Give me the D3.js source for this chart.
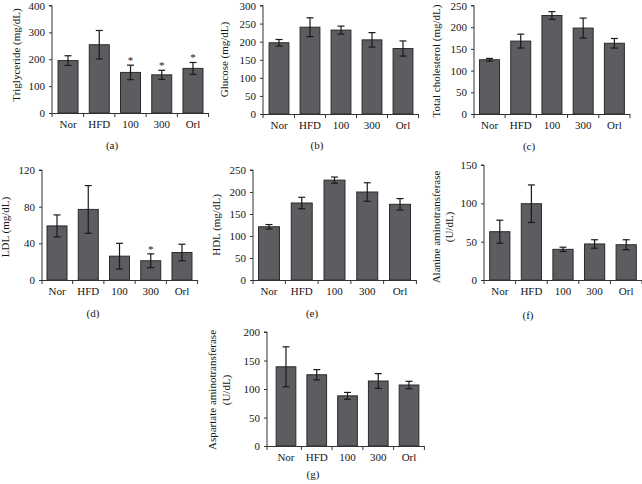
<!DOCTYPE html>
<html><head><meta charset="utf-8">
<script src="https://cdn.jsdelivr.net/npm/d3@7"></script>
<style>
html,body{margin:0;padding:0;background:#fff;}
svg{display:block;}
text{font-family:"Liberation Serif","DejaVu Serif",serif;fill:#151515;}
</style></head>
<body>
<svg id="c" width="642" height="484"></svg>
<script>
const categories = ["Nor","HFD","100","300","Orl"];

const trigMean = [195, 254, 151, 142, 166];
const trigErr  = [18, 53, 27, 17, 22];
const trigStar = [false, false, true, true, true];
const trigTicks = [0,100,200,300,400];

const gluMean = [197, 240, 232, 205, 181];
const gluErr  = [9, 26, 11, 20, 21];
const gluStar = [false,false,false,false,false];
const gluTicks = [0,50,100,150,200,250,300];

const tcMean = [125, 168, 227, 198, 163];
const tcErr  = [3, 16, 9, 23, 11];
const tcStar = [false,false,false,false,false];
const tcTicks = [0,50,100,150,200,250];

const ldlMean = [59, 77, 26, 21, 30];
const ldlErr  = [12, 26, 14, 7.5, 9];
const ldlStar = [false,false,false,true,false];
const ldlTicks = [0,40,80,120];

const hdlMean = [121, 175, 227, 200, 172];
const hdlErr  = [5, 13, 7, 21, 13];
const hdlStar = [false,false,false,false,false];
const hdlTicks = [0,50,100,150,200,250];

const altMean = [63, 99.5, 40, 47, 46];
const altErr  = [15, 24.5, 2.8, 5.5, 6.5];
const altStar = [false,false,false,false,false];
const altTicks = [0,50,100,150];

const astMean = [139, 125, 88, 114, 107];
const astErr  = [35, 9, 6, 13, 6.5];
const astStar = [false,false,false,false,false];
const astTicks = [0,50,100,150,200];

const panels = [
  {mean:trigMean, err:trigErr, star:trigStar, ticks:trigTicks, label:["Triglyceride (mg/dL)"], cap:"(a)",
   ax:52, x0:52.4, x1:208.6, top:5.5, bot:113, lx:[20], ly:55, capx:112, capy:149},
  {mean:gluMean, err:gluErr, star:gluStar, ticks:gluTicks, label:["Glucose (mg/dL)"], cap:"(b)",
   ax:263, x0:263.5, x1:418.5, top:5.5, bot:114, lx:[228], ly:59.5, capx:317, capy:149},
  {mean:tcMean, err:tcErr, star:tcStar, ticks:tcTicks, label:["Total cholesterol (mg/dL)"], cap:"(c)",
   ax:474, x0:473.9, x1:630, top:5.5, bot:114, lx:[440], ly:61, capx:529, capy:150},
  {mean:ldlMean, err:ldlErr, star:ldlStar, ticks:ldlTicks, label:["LDL (mg/dL)"], cap:"(d)",
   ax:42, x0:41.4, x1:197.6, top:170, bot:280, lx:[9], ly:227, capx:93, capy:317},
  {mean:hdlMean, err:hdlErr, star:hdlStar, ticks:hdlTicks, label:["HDL (mg/dL)"], cap:"(e)",
   ax:253, x0:252.6, x1:416.4, top:170, bot:280, lx:[220], ly:225, capx:312, capy:317},
  {mean:altMean, err:altErr, star:altStar, ticks:altTicks, label:["Alanine aminotransferase","(U/dL)"], cap:"(f)",
   ax:484, x0:484, x1:642, top:165, bot:280, lx:[440,453], ly:227, capx:528, capy:319},
  {mean:astMean, err:astErr, star:astStar, ticks:astTicks, label:["Aspartate aminotransferase","(U/dL)"], cap:"(g)",
   ax:267, x0:270.6, x1:424.4, top:332, bot:446, lx:[216,230], ly:390, capx:313, capy:478}
];

const svg = d3.select("#c");
const axisCol = "#333";

panels.forEach(p => {
  const g = svg.append("g");
  const ymax = p.ticks[p.ticks.length-1];
  const y = d3.scaleLinear().domain([0, ymax]).range([p.bot, p.top]);
  const x = d3.scaleBand().domain(categories).range([p.x0, p.x1]).paddingInner(0.36).paddingOuter(0.18);

  // bars
  g.selectAll("rect.bar").data(categories).enter().append("rect")
    .attr("x", d => x(d)).attr("width", x.bandwidth())
    .attr("y", (d,i) => y(p.mean[i])).attr("height", (d,i) => p.bot - y(p.mean[i]))
    .attr("fill", "#5c5c61").attr("stroke", "#2b2b2b").attr("stroke-width", 1);

  // error bars
  categories.forEach((c,i) => {
    const cx = x(c) + x.bandwidth()/2;
    const hi = y(p.mean[i] + p.err[i]), lo = y(p.mean[i] - p.err[i]);
    g.append("line").attr("x1",cx).attr("x2",cx).attr("y1",hi).attr("y2",lo).attr("stroke","#1a1a1a").attr("stroke-width",1.2);
    g.append("line").attr("x1",cx-3.5).attr("x2",cx+3.5).attr("y1",hi).attr("y2",hi).attr("stroke","#1a1a1a").attr("stroke-width",1.2);
    g.append("line").attr("x1",cx-3.5).attr("x2",cx+3.5).attr("y1",lo).attr("y2",lo).attr("stroke","#1a1a1a").attr("stroke-width",1.2);
    if (p.star[i]) {
      g.append("text").attr("x",cx).attr("y",hi-1).attr("text-anchor","middle")
        .attr("font-size","11px").text("*");
    }
  });

  // y axis
  const yAxis = d3.axisLeft(y).tickValues(p.ticks).tickSize(3).tickPadding(4).tickFormat(d3.format("d"));
  const ya = g.append("g").attr("transform", `translate(${p.ax},0)`).call(yAxis);
  ya.select(".domain").attr("stroke", axisCol).attr("d", `M-3,${p.top}H0V${p.bot}`);
  ya.selectAll(".tick line").attr("stroke", axisCol);
  ya.selectAll("text").attr("font-size","11px").attr("font-family","Liberation Serif, serif").attr("fill","#151515");

  // x axis line and boundary ticks
  g.append("line").attr("x1",p.ax).attr("x2",p.x1).attr("y1",p.bot+0.5).attr("y2",p.bot+0.5).attr("stroke",axisCol);
  const bounds = d3.range(categories.length+1).map(k => p.x0 + k*(p.x1-p.x0)/categories.length);
  bounds.forEach((bx,k) => {
    const xx = k===0 ? p.ax : bx;
    g.append("line").attr("x1",xx).attr("x2",xx).attr("y1",p.bot).attr("y2",p.bot+4).attr("stroke",axisCol);
  });
  categories.forEach(c => {
    g.append("text").attr("x", x(c)+x.bandwidth()/2).attr("y", p.bot+15)
      .attr("text-anchor","middle").attr("font-size","11px").text(c);
  });

  // y label
  p.label.forEach((t,k) => {
    g.append("text").attr("transform", `translate(${p.lx[k]},${p.ly}) rotate(-90)`)
      .attr("text-anchor","middle").attr("font-size","11px").text(t);
  });

  // caption
  g.append("text").attr("x", p.capx).attr("y", p.capy).attr("text-anchor","middle")
    .attr("font-size","11px").text(p.cap);
});
</script>
</body></html>
